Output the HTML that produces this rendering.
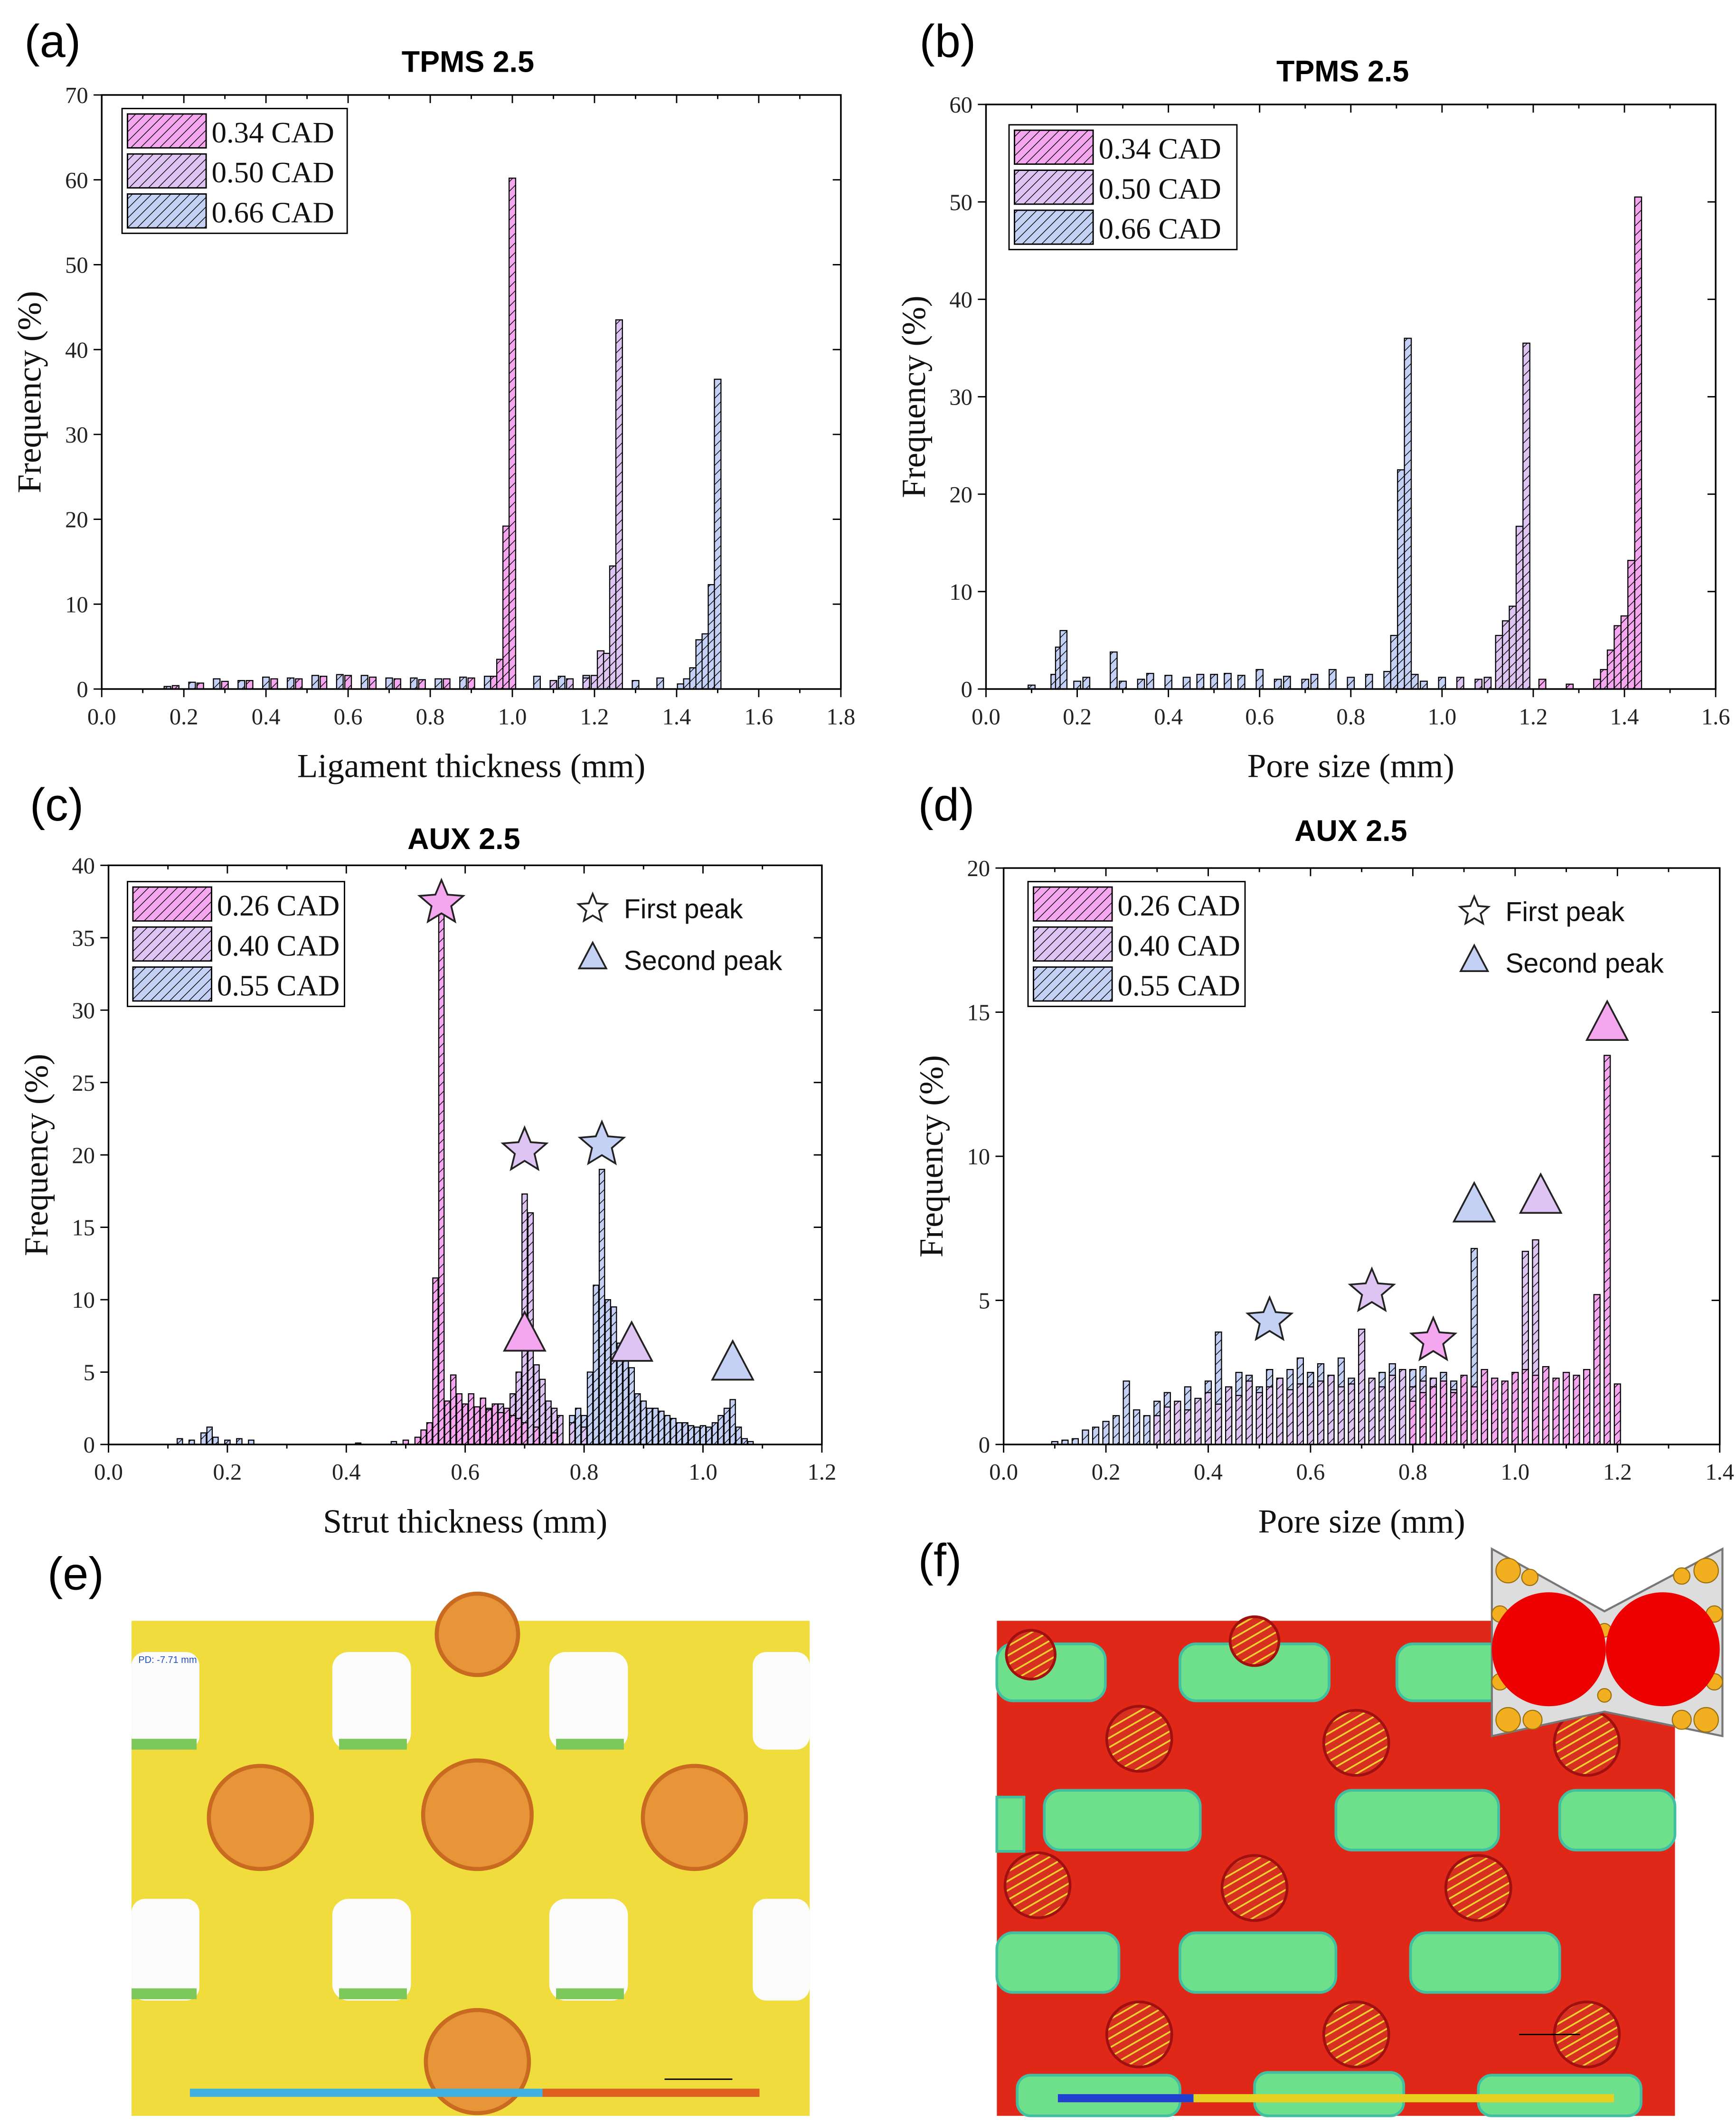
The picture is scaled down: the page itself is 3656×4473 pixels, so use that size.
<!DOCTYPE html>
<html><head><meta charset="utf-8"><style>
html,body{margin:0;padding:0;background:#fff;}
svg{display:block;}
.tk{font-family:"Liberation Serif",serif;font-size:17px;fill:#222;}
.at{font-family:"Liberation Serif",serif;font-size:25px;fill:#111;}
.tt{font-family:"Liberation Sans",sans-serif;font-size:22px;font-weight:bold;fill:#000;}
.pl{font-family:"Liberation Sans",sans-serif;font-size:34px;fill:#000;}
.lg{font-family:"Liberation Serif",serif;font-size:22px;fill:#111;}
.mk{font-family:"Liberation Sans",sans-serif;font-size:20px;fill:#111;}
</style></head><body>
<svg id="root" xmlns="http://www.w3.org/2000/svg" width="3656" height="4473" viewBox="0 0 1280 1566">
<defs>
<pattern id="hp" patternUnits="userSpaceOnUse" width="5" height="5" patternTransform="rotate(45)"><rect width="5" height="5" fill="#f4a6ee"/><line x1="0" y1="0" x2="0" y2="5" stroke="#000" stroke-width="1"/></pattern>
<pattern id="hl" patternUnits="userSpaceOnUse" width="5" height="5" patternTransform="rotate(45)"><rect width="5" height="5" fill="#ddc4f2"/><line x1="0" y1="0" x2="0" y2="5" stroke="#000" stroke-width="1"/></pattern>
<pattern id="hb" patternUnits="userSpaceOnUse" width="5" height="5" patternTransform="rotate(45)"><rect width="5" height="5" fill="#c4d0f4"/><line x1="0" y1="0" x2="0" y2="5" stroke="#000" stroke-width="1"/></pattern>
<pattern id="stripe" patternUnits="userSpaceOnUse" width="6" height="6" patternTransform="rotate(60)"><rect width="6" height="6" fill="#d83020"/><line x1="0" y1="0" x2="0" y2="6" stroke="#f0d030" stroke-width="2.5"/></pattern>
</defs>
<rect width="1280" height="1566" fill="#fff"/>
<g id="charts"></g>
<g id="img-e">
<rect x="97" y="1195" width="500" height="365" fill="#f0dc3c"/>
<g fill="#fbfbfb">
<rect x="97" y="1218" width="50" height="72" rx="10"/><rect x="245" y="1218" width="58" height="72" rx="12"/><rect x="405" y="1218" width="58" height="72" rx="12"/><rect x="555" y="1218" width="42" height="72" rx="10"/>
<rect x="97" y="1400" width="50" height="75" rx="10"/><rect x="245" y="1400" width="58" height="75" rx="12"/><rect x="405" y="1400" width="58" height="75" rx="12"/><rect x="555" y="1400" width="42" height="75" rx="10"/>
</g>
<g fill="#7cc85a"><rect x="250" y="1282" width="50" height="8"/><rect x="410" y="1282" width="50" height="8"/><rect x="250" y="1466" width="50" height="8"/><rect x="410" y="1466" width="50" height="8"/><rect x="97" y="1282" width="48" height="8"/><rect x="97" y="1466" width="48" height="8"/></g>
<g fill="#e89438" stroke="#c86a20" stroke-width="3">
<circle cx="192" cy="1340" r="38"/><circle cx="352" cy="1338" r="40"/><circle cx="512" cy="1340" r="38"/><circle cx="352" cy="1520" r="38"/><circle cx="352" cy="1205" r="30"/>
</g>
<rect x="140" y="1540" width="420" height="6" fill="#40b0e0"/><rect x="400" y="1540" width="160" height="6" fill="#e06020"/>
<text x="102" y="1226" font-size="7" fill="#2050c0" font-family="Liberation Sans">PD: -7.71 mm</text>
<line x1="490" y1="1533" x2="540" y2="1533" stroke="#000"/>
</g>
<g id="img-f">
<rect x="735" y="1195" width="500" height="365" fill="#e02818"/>
<g fill="#6ee08c" stroke="#40c0a0" stroke-width="2">
<rect x="735" y="1212" width="80" height="42" rx="12"/><rect x="870" y="1212" width="110" height="42" rx="12"/><rect x="1030" y="1212" width="80" height="42" rx="12"/>
<rect x="770" y="1320" width="115" height="44" rx="12"/><rect x="985" y="1320" width="120" height="44" rx="12"/><rect x="1150" y="1320" width="85" height="44" rx="12"/>
<rect x="735" y="1425" width="90" height="44" rx="12"/><rect x="870" y="1425" width="115" height="44" rx="12"/><rect x="1040" y="1425" width="110" height="44" rx="12"/>
<rect x="750" y="1530" width="120" height="30" rx="10"/><rect x="925" y="1528" width="110" height="32" rx="10"/><rect x="1090" y="1530" width="120" height="30" rx="10"/>
<rect x="735" y="1325" width="20" height="40"/>
</g>
<g fill="url(#stripe)" stroke="#a01010" stroke-width="2">
<circle cx="840" cy="1282" r="24"/><circle cx="1000" cy="1285" r="24"/><circle cx="1170" cy="1285" r="24"/>
<circle cx="765" cy="1390" r="24"/><circle cx="925" cy="1392" r="24"/><circle cx="1090" cy="1392" r="24"/>
<circle cx="840" cy="1500" r="24"/><circle cx="1000" cy="1500" r="24"/><circle cx="1170" cy="1500" r="24"/>
<circle cx="760" cy="1220" r="18"/><circle cx="925" cy="1210" r="18"/>
</g>
<rect x="780" y="1544" width="410" height="6" fill="#e8d020"/><rect x="780" y="1544" width="100" height="6" fill="#2040d0"/>
<line x1="1120" y1="1500" x2="1165" y2="1500" stroke="#000"/>
</g>
<g id="bowtie">
<polygon points="1100,1142 1183,1188 1270,1142 1270,1280 1183,1262 1100,1280" fill="#ddd" stroke="#777" stroke-width="1.5"/>
<g fill="#f2b020" stroke="#9a7010" stroke-width="0.8">
<circle cx="1112" cy="1158" r="9"/><circle cx="1128" cy="1163" r="6"/><circle cx="1112" cy="1268" r="9"/><circle cx="1130" cy="1268" r="7"/>
<circle cx="1258" cy="1158" r="9"/><circle cx="1240" cy="1162" r="6"/><circle cx="1258" cy="1268" r="9"/><circle cx="1240" cy="1268" r="7"/>
<circle cx="1106" cy="1190" r="6"/><circle cx="1106" cy="1240" r="6"/><circle cx="1264" cy="1190" r="6"/><circle cx="1264" cy="1240" r="6"/>
<circle cx="1183" cy="1202" r="5"/><circle cx="1183" cy="1250" r="5"/>
</g>
<circle cx="1142" cy="1216" r="42" fill="#ee0000"/><circle cx="1226" cy="1216" r="42" fill="#ee0000"/>
</g>
<g id="panel-labels">
<text class="pl" x="18" y="42">(a)</text>
<text class="pl" x="678" y="42">(b)</text>
<text class="pl" x="22" y="605">(c)</text>
<text class="pl" x="677" y="605">(d)</text>
<text class="pl" x="35" y="1172">(e)</text>
<text class="pl" x="677" y="1162">(f)</text>
</g>
</svg>
<script>
// ---- data ----
var aPinkX=[0.18,0.24,0.30,0.36,0.42,0.48,0.54,0.60,0.66,0.72,0.78,0.84,0.90,0.955,0.97,0.985,1.0];
var aPinkV=[0.4,0.7,0.9,1.0,1.2,1.2,1.5,1.6,1.4,1.2,1.1,1.2,1.3,1.5,3.5,19.2,60.2];
var aLavX=[1.10,1.14,1.18,1.20,1.215,1.23,1.245,1.26];
var aLavV=[1.0,1.2,1.3,1.6,4.5,4.2,14.5,43.5];
var aBlueX=[0.16,0.22,0.28,0.34,0.40,0.46,0.52,0.58,0.64,0.70,0.76,0.82,0.88,0.94,1.00,1.06,1.12,1.18,1.24,1.30,1.36,1.41,1.425,1.44,1.455,1.47,1.485,1.50];
var aBlueV=[0.3,0.8,1.2,1.0,1.4,1.3,1.6,1.7,1.6,1.3,1.3,1.2,1.4,1.5,1.6,1.5,1.5,1.6,1.5,1.0,1.3,0.6,1.2,2.5,5.8,6.5,12.3,36.5];
var bPinkX=[1.22,1.28,1.34,1.355,1.37,1.385,1.40,1.415,1.43];
var bPinkV=[1.0,0.5,1.0,2.0,4.0,6.5,7.5,13.2,50.5];
var bLavX=[1.04,1.08,1.10,1.125,1.14,1.155,1.17,1.185];
var bLavV=[1.2,1.0,1.2,5.5,7.0,8.5,16.7,35.5];
var bBlueX=[0.10,0.15,0.16,0.17,0.20,0.22,0.28,0.30,0.34,0.36,0.40,0.44,0.47,0.50,0.53,0.56,0.60,0.64,0.66,0.70,0.72,0.76,0.80,0.84,0.88,0.895,0.91,0.925,0.94,0.96,1.00];
var bBlueV=[0.4,1.5,4.3,6.0,0.8,1.2,3.8,0.8,1.0,1.6,1.4,1.2,1.5,1.5,1.6,1.4,2.0,1.0,1.3,1.0,1.5,2.0,1.2,1.5,1.8,5.5,22.5,36.0,1.5,0.8,1.2];
var cPinkX=[0.50,0.52,0.53,0.54,0.55,0.56,0.57,0.58,0.59,0.60,0.61,0.62,0.63,0.64,0.65,0.66,0.67,0.68,0.69,0.70,0.72,0.75];
var cPinkV=[0.3,0.5,1.0,1.5,11.5,37.5,3.0,4.8,3.5,2.8,3.5,2.6,3.2,2.4,2.8,2.2,2.5,2.0,1.8,1.5,1.2,0.8];
var cLavX=[0.62,0.64,0.66,0.68,0.69,0.70,0.71,0.72,0.73,0.74,0.75,0.76,0.78,0.80];
var cLavV=[2.0,2.5,2.8,3.5,5.0,17.3,16.0,5.5,4.5,3.0,2.5,2.0,1.5,1.2];
var cBlueX=[0.12,0.14,0.16,0.17,0.18,0.20,0.22,0.24,0.42,0.48,0.78,0.79,0.80,0.81,0.82,0.83,0.84,0.85,0.86,0.87,0.88,0.89,0.90,0.91,0.92,0.93,0.94,0.95,0.96,0.97,0.98,0.99,1.00,1.01,1.02,1.03,1.04,1.05,1.06,1.07,1.08];
var cBlueV=[0.4,0.3,0.8,1.2,0.5,0.3,0.4,0.3,0.1,0.2,2.0,2.5,2.0,5.0,11.0,19.0,10.0,9.5,7.0,6.0,5.3,3.5,3.0,2.5,2.5,2.3,2.0,1.8,1.5,1.5,1.3,1.2,1.3,1.2,1.5,2.0,2.5,3.1,1.2,0.4,0.2];
var dBlueStart=0.10, dLavStart=0.30, dPinkStart=0.80, dStep=0.02;
var dBlueV=[0.1,0.15,0.2,0.5,0.6,0.8,1.0,2.2,1.2,1.0,1.5,1.8,1.3,2.0,1.5,2.2,3.9,1.6,2.5,2.4,2.0,2.6,2.2,2.6,3.0,2.5,2.8,2.4,3.0,2.3,2.6,2.2,2.5,2.8,2.4,2.6,2.7,2.3,2.5,2.2,2.0,6.8,1.8,1.5,1.2,1.0];
var dLavV=[1.0,1.3,1.5,1.2,1.6,1.8,1.4,2.0,1.7,2.2,1.8,2.0,2.3,1.9,2.1,2.0,2.2,2.4,2.0,2.1,4.0,2.3,2.0,2.4,2.6,2.0,2.2,2.3,2.1,1.9,1.7,1.8,1.6,1.5,1.8,1.7,6.7,7.1,1.2];
var dPinkV=[1.5,1.8,2.0,2.2,1.8,2.4,2.0,2.6,2.3,2.2,2.5,2.6,2.4,2.7,2.3,2.5,2.4,2.6,5.2,13.5,2.1];
var cMarkX=[0.56,0.70,0.83,0.70,0.88,1.05];
var cMarkY=[37.4,20.3,20.7,7.6,6.9,5.6];
var dMarkX=[0.52,0.72,0.84,0.92,1.05,1.18];
var dMarkY=[4.3,5.3,3.6,8.3,8.6,14.6];
var markKinds=['star','star','star','tri','tri','tri'];
var cMarkFill=['#f4a6ee','#ddc4f2','#c4d0f4','#f4a6ee','#ddc4f2','#c4d0f4'];
var dMarkFill=['#c4d0f4','#ddc4f2','#f4a6ee','#c4d0f4','#ddc4f2','#f4a6ee'];

var NS='http://www.w3.org/2000/svg';
var root=document.getElementById('charts');
function mk(tag,attrs,parent){var e=document.createElementNS(NS,tag);for(var k in attrs)e.setAttribute(k,attrs[k]);(parent||root).appendChild(e);return e;}

function panel(P){
  var g=mk('g',{});
  
  
  var sx=function(v){return P.x0+(v-P.xmin)/(P.xmax-P.xmin)*(P.x1-P.x0);};
  var sy=function(v){return P.y0-(v/P.ymax)*(P.y0-P.y1);};
  P.series.forEach(function(s){
    var sg=mk('g',{},g);
    
    
    for(var i=0;i<s.v.length;i++){
      var x=s.x?s.x[i]:s.start+i*s.step;
      var v=s.v[i]; if(v<=0) continue;
      var l=sx(x-P.bw/2), r=sx(x+P.bw/2);
      var b=mk('rect',{x:l,y:sy(v),width:r-l,height:sy(0)-sy(v),fill:'url(#'+s.pat+')',stroke:'#000','stroke-width':0.8},sg);
      
      
    }
  });
  mk('rect',{x:P.x0,y:P.y1,width:P.x1-P.x0,height:P.y0-P.y1,fill:'none',stroke:'#000','stroke-width':1.2},g);
  P.xt.forEach(function(t){
    var X=sx(t);
    mk('line',{x1:X,y1:P.y0,x2:X,y2:P.y0+6,stroke:'#000'},g);
    mk('line',{x1:X,y1:P.y1,x2:X,y2:P.y1+6,stroke:'#000'},g);
    var tx=mk('text',{x:X,y:P.y0+26,'text-anchor':'middle','class':'tk'},g);tx.textContent=t.toFixed(1);
    
    
  });
  for(var j=0;j<P.xt.length-1;j++){var Xm=sx((P.xt[j]+P.xt[j+1])/2);mk('line',{x1:Xm,y1:P.y0,x2:Xm,y2:P.y0+3,stroke:'#000'},g);mk('line',{x1:Xm,y1:P.y1,x2:Xm,y2:P.y1+3,stroke:'#000'},g);}
  P.yt.forEach(function(t){
    var Y=sy(t);
    mk('line',{x1:P.x0-6,y1:Y,x2:P.x0,y2:Y,stroke:'#000'},g);
    mk('line',{x1:P.x1-6,y1:Y,x2:P.x1,y2:Y,stroke:'#000'},g);
    var ty=mk('text',{x:P.x0-10,y:Y+6,'text-anchor':'end','class':'tk'},g);ty.textContent=t;
    
    
  });
  var xt=mk('text',{x:(P.x0+P.x1)/2,y:P.y0+65,'text-anchor':'middle','class':'at'},g);xt.textContent=P.xlabel;
  
  
  var cy=(P.y0+P.y1)/2;
  var yt=mk('text',{x:P.x0-45,y:cy,'text-anchor':'middle','class':'at',transform:'rotate(-90 '+(P.x0-45)+' '+cy+')'},g);yt.textContent='Frequency (%)';
  
  
  var ti=mk('text',{x:P.tx,y:P.ty,'text-anchor':'middle','class':'tt'},g);ti.textContent=P.title;
  
  
  var L=P.leg;
  var lg=mk('g',{},g);
  
  
  mk('rect',{x:L.x,y:L.y,width:L.w,height:92,fill:'#fff',stroke:'#000','stroke-width':1},lg);
  var pats=['hp','hl','hb'];
  for(var k=0;k<3;k++){
    var it=mk('g',{},lg);
    
    
    mk('rect',{x:L.x+4,y:L.y+4+k*29.5,width:58,height:25,fill:'url(#'+pats[k]+')',stroke:'#000','stroke-width':1},it);
    var lt=mk('text',{x:L.x+66,y:L.y+25+k*29.5,'class':'lg'},it);lt.textContent=L.labels[k];
  }
  if(P.marks){
    var M=P.marks;
    for(var m=0;m<M.x.length;m++){
      var c=M.kinds[m]=='star'?star(sx(M.x[m]),sy(M.y[m]),17,M.fill[m],g):tri(sx(M.x[m]),sy(M.y[m]),15,M.fill[m],g);
      
      
    }
    var kx=P.mkx;
    var s1=star(kx,P.y1+32,11,'#fff',g);
    
    
    var t1=tri(kx,P.y1+68,10,'#c4d0f4',g);
    
    
    var a1=mk('text',{x:kx+23,y:P.y1+39,'class':'mk'},g);a1.textContent='First peak';
    var a2=mk('text',{x:kx+23,y:P.y1+77,'class':'mk'},g);a2.textContent='Second peak';
  }
}
function star(cx,cy,r,fill,g){
  var p=[];for(var i=0;i<10;i++){var rr=i%2?r*0.45:r;var a=-Math.PI/2+i*Math.PI/5;p.push((cx+rr*Math.cos(a)).toFixed(1)+','+(cy+rr*Math.sin(a)).toFixed(1));}
  return mk('polygon',{points:p.join(' '),fill:fill,stroke:'#222','stroke-width':1.3},g);
}
function tri(cx,cy,r,fill,g){
  return mk('polygon',{points:cx+','+(cy-r*1.1)+' '+(cx+r)+','+(cy+r*0.8)+' '+(cx-r)+','+(cy+r*0.8),fill:fill,stroke:'#222','stroke-width':1.3},g);
}
panel({name:'chart-a',x0:75,x1:620,y0:508,y1:70,xmin:0,xmax:1.8,ymax:70,bw:0.016,
  xt:[0,0.2,0.4,0.6,0.8,1.0,1.2,1.4,1.6,1.8],yt:[0,10,20,30,40,50,60,70],xlabel:'Ligament thickness (mm)',title:'TPMS 2.5',tx:345,ty:53,
  leg:{x:90,y:80,w:166,labels:['0.34 CAD','0.50 CAD','0.66 CAD']},
  series:[{name:'series-0.66-cad',x:aBlueX,v:aBlueV,pat:'hb'},{name:'series-0.50-cad',x:aLavX,v:aLavV,pat:'hl'},{name:'series-0.34-cad',x:aPinkX,v:aPinkV,pat:'hp'}]});
panel({name:'chart-b',x0:727,x1:1265,y0:508,y1:77,xmin:0,xmax:1.6,ymax:60,bw:0.015,
  xt:[0,0.2,0.4,0.6,0.8,1.0,1.2,1.4,1.6],yt:[0,10,20,30,40,50,60],xlabel:'Pore size (mm)',title:'TPMS 2.5',tx:990,ty:60,
  leg:{x:744,y:92,w:168,labels:['0.34 CAD','0.50 CAD','0.66 CAD']},
  series:[{name:'series-0.66-cad',x:bBlueX,v:bBlueV,pat:'hb'},{name:'series-0.50-cad',x:bLavX,v:bLavV,pat:'hl'},{name:'series-0.34-cad',x:bPinkX,v:bPinkV,pat:'hp'}]});
panel({name:'chart-c',x0:80,x1:606,y0:1065,y1:638,xmin:0,xmax:1.2,ymax:40,bw:0.009,
  xt:[0,0.2,0.4,0.6,0.8,1.0,1.2],yt:[0,5,10,15,20,25,30,35,40],xlabel:'Strut thickness (mm)',title:'AUX 2.5',tx:342,ty:626,
  leg:{x:94,y:650,w:160,labels:['0.26 CAD','0.40 CAD','0.55 CAD']},
  series:[{name:'series-0.55-cad',x:cBlueX,v:cBlueV,pat:'hb'},{name:'series-0.40-cad',x:cLavX,v:cLavV,pat:'hl'},{name:'series-0.26-cad',x:cPinkX,v:cPinkV,pat:'hp'}],
  marks:{x:cMarkX,y:cMarkY,kinds:markKinds,fill:cMarkFill},mkx:437});
panel({name:'chart-d',x0:740,x1:1268,y0:1065,y1:640,xmin:0,xmax:1.4,ymax:20,bw:0.012,
  xt:[0,0.2,0.4,0.6,0.8,1.0,1.2,1.4],yt:[0,5,10,15,20],xlabel:'Pore size (mm)',title:'AUX 2.5',tx:996,ty:620,
  leg:{x:758,y:650,w:160,labels:['0.26 CAD','0.40 CAD','0.55 CAD']},
  series:[{name:'series-0.55-cad',start:dBlueStart,step:dStep,v:dBlueV,pat:'hb'},{name:'series-0.40-cad',start:dLavStart,step:dStep,v:dLavV,pat:'hl'},{name:'series-0.26-cad',start:dPinkStart,step:dStep,v:dPinkV,pat:'hp'}],
  marks:{x:dMarkX,y:dMarkY,kinds:markKinds,fill:dMarkFill},mkx:1087});
</script>
</body></html>
